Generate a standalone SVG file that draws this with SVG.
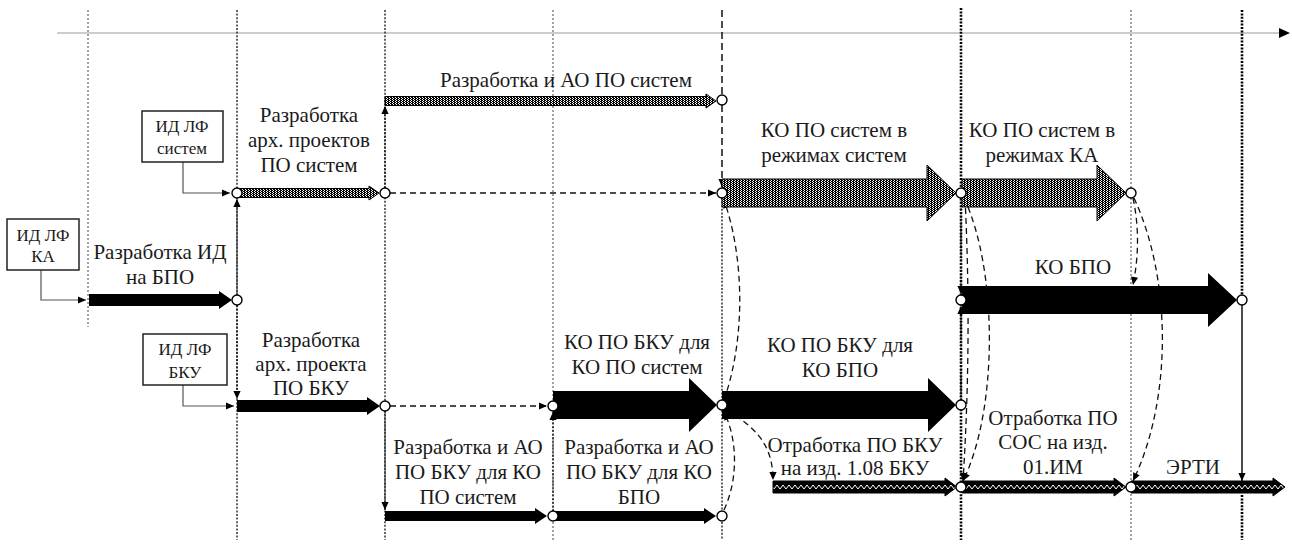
<svg xmlns="http://www.w3.org/2000/svg" width="1292" height="546" viewBox="0 0 1292 546" font-family="'Liberation Serif', 'DejaVu Serif', serif">
<style>
text{font-family:'Liberation Serif','DejaVu Serif',serif;font-size:21px;fill:#1a1a1a;text-anchor:middle}
.bx text{font-size:17px}
.bx rect{fill:#fff;stroke:#222;stroke-width:1.5}
.vl{stroke:#111;stroke-width:1.3;stroke-dasharray:2 1.6;fill:none}
.vt{stroke:#444;stroke-width:1;stroke-dasharray:2 2;fill:none}
.vb{stroke:#000;stroke-width:2.6;stroke-dasharray:2 1.4;fill:none}
.vd{stroke:#111;stroke-width:1.5;stroke-dasharray:7 4;fill:none}
.ms{fill:#fff;stroke:#000;stroke-width:1.4}
.hat{fill:url(#chk);stroke:#000;stroke-width:1}
.blk{fill:#000}
.zz{fill:url(#zz);stroke:#000;stroke-width:1}
.cn{stroke:#555;stroke-width:1.2;fill:none}
.dash{stroke:#111;stroke-width:1.3;stroke-dasharray:6 4;fill:none}
.dot{stroke:#111;stroke-width:1.4;stroke-dasharray:2 1.6;fill:none}
</style>
<defs>
<pattern id="chk" x="0" y="0" width="3" height="2" patternUnits="userSpaceOnUse"><rect width="3" height="2" fill="#000"/><rect width="1" height="1" fill="#fff"/><rect x="2" y="1" width="1" height="1" fill="#fff"/></pattern>
<pattern id="zz" x="0" y="481" width="12" height="13" patternUnits="userSpaceOnUse"><rect width="12" height="13" fill="#000"/><path d="M0,8 L3,4 L6,8 L9,4 L12,8" stroke="#fff" stroke-width="1" fill="none"/></pattern>
<marker id="ah" viewBox="0 0 10 10" refX="10" refY="5" markerWidth="9" markerHeight="8" orient="auto" markerUnits="userSpaceOnUse"><path d="M0,0.5 L10,5 L0,9.5 z" fill="#000"/></marker>
</defs>

<g id="timeline">
<line x1="57" y1="33" x2="1280" y2="33" stroke="#bbb" stroke-width="1.5"/>
<path d="M1279,28 L1290,33 L1279,38 z" fill="#000"/>
</g>

<g id="gridlines">
<line class="vt" x1="88" y1="10" x2="88" y2="327"/>
<line class="vl" x1="237" y1="10" x2="237" y2="540"/>
<line class="vl" x1="385" y1="10" x2="385" y2="540"/>
<line class="vt" x1="553" y1="10" x2="553" y2="540"/>
<line class="vd" x1="722" y1="10" x2="722" y2="95"/>
<line class="vl" x1="722" y1="198" x2="722" y2="540"/>
<line class="vb" x1="961" y1="8" x2="961" y2="540"/>
<line class="vt" x1="1131" y1="10" x2="1131" y2="540"/>
<line class="vb" x1="1242" y1="10" x2="1242" y2="295"/>
<line class="vb" x1="1242" y1="495" x2="1242" y2="540"/>
</g>

<g id="connectors">
<polyline class="cn" points="183,162 183,193 230,193" marker-end="url(#ah)"/>
<polyline class="cn" points="41,270 41,300 86,300" marker-end="url(#ah)"/>
<polyline class="cn" points="183,385 183,406 234,406" marker-end="url(#ah)"/>
<line class="dash" x1="390" y1="193" x2="716" y2="193" marker-end="url(#ah)"/>
<line class="dash" x1="390" y1="406" x2="547" y2="406" marker-end="url(#ah)"/>
<line class="dot" x1="237" y1="295" x2="237" y2="199" marker-end="url(#ah)"/>
<line class="dot" x1="237" y1="305" x2="237" y2="399" marker-end="url(#ah)"/>
<line class="dot" x1="385" y1="188" x2="385" y2="106" marker-end="url(#ah)"/>
<line class="dot" x1="385" y1="411" x2="385" y2="510" marker-end="url(#ah)"/>
<line class="dot" x1="553" y1="511" x2="553" y2="412" marker-end="url(#ah)"/>
<line class="vd" x1="722" y1="105" x2="722" y2="187" marker-end="url(#ah)"/>
<path class="dash" d="M724,400 C745,340 745,260 724,200" marker-end="url(#ah)"/>
<path class="dash" d="M724,510 C738,480 738,440 724,412" marker-end="url(#ah)"/>
<path class="dash" d="M727,410 C750,425 773,440 773,480" marker-end="url(#ah)"/>
<line class="dot" x1="961" y1="198" x2="961" y2="294" marker-end="url(#ah)"/>
<line class="dot" x1="961" y1="400" x2="961" y2="306" marker-end="url(#ah)"/>
<path class="dash" d="M965,198 Q972,340 963,481" marker-end="url(#ah)"/>
<path class="dash" d="M964,198 C998,270 998,410 963,481" marker-end="url(#ah)"/>
<path class="dash" d="M1133,198 Q1142,240 1133,285" marker-end="url(#ah)"/>
<path class="dash" d="M1134,198 C1172,280 1172,400 1133,481" marker-end="url(#ah)"/>
<line x1="1242" y1="305" x2="1242" y2="481" stroke="#000" stroke-width="1.4" marker-end="url(#ah)"/>
</g>

<g id="box-id-lf-sistem" class="bx">
<rect x="142" y="111" width="81" height="51"/>
<text x="182" y="132">ИД ЛФ</text>
<text x="182" y="154">систем</text>
</g>
<g id="box-id-lf-ka" class="bx">
<rect x="7" y="219" width="72" height="51"/>
<text x="43" y="241">ИД ЛФ</text>
<text x="43" y="262">КА</text>
</g>
<g id="box-id-lf-bku" class="bx">
<rect x="143" y="334" width="84" height="51"/>
<text x="185" y="355">ИД ЛФ</text>
<text x="185" y="378">БКУ</text>
</g>

<g id="task-razr-ao-po-sistem">
<polygon class="hat" points="385,96.5 706,96.5 706,94 716,101 706,108 706,105.5 385,105.5"/>
<text x="566" y="87">Разработка и АО ПО систем</text>
</g>
<g id="task-razr-arh-sistem">
<polygon class="hat" points="237,188.5 369,188.5 369,186 379,193 369,200 369,197.5 237,197.5"/>
<text x="309" y="122">Разработка</text>
<text x="309" y="147">арх. проектов</text>
<text x="309" y="172">ПО систем</text>
</g>
<g id="task-ko-rezh-sistem">
<polygon class="hat" points="722,179 927,179 927,165 956,193 927,221 927,207 722,207"/>
<text x="834" y="137">КО ПО систем в</text>
<text x="834" y="162">режимах систем</text>
</g>
<g id="task-ko-rezh-ka">
<polygon class="hat" points="962,179 1097,179 1097,165 1126,193 1097,221 1097,207 962,207"/>
<text x="1042" y="137">КО ПО систем в</text>
<text x="1042" y="162">режимах КА</text>
</g>
<g id="task-razr-id-bpo">
<polygon class="blk" points="89,294 219,294 219,291 232,300 219,309 219,306 89,306"/>
<text x="160" y="259">Разработка ИД</text>
<text x="160" y="284">на БПО</text>
</g>
<g id="task-ko-bpo">
<polygon class="blk" points="962,286 1208,286 1208,273 1237,300 1208,327 1208,314 962,314"/>
<text x="1073" y="274">КО БПО</text>
</g>
<g id="task-razr-arh-bku">
<polygon class="blk" points="237,400 367,400 367,397 380,406 367,415 367,412 237,412"/>
<text x="311" y="347">Разработка</text>
<text x="311" y="371">арх. проекта</text>
<text x="311" y="395">ПО БКУ</text>
</g>
<g id="task-ko-bku-sistem">
<polygon class="blk" points="553,391 689,391 689,378 717,405 689,432 689,419 553,419"/>
<text x="637" y="349">КО ПО БКУ для</text>
<text x="637" y="374">КО ПО систем</text>
</g>
<g id="task-ko-bku-bpo">
<polygon class="blk" points="722,391 928,391 928,378 956,405 928,432 928,419 722,419"/>
<text x="840" y="352">КО ПО БКУ для</text>
<text x="840" y="377">КО БПО</text>
</g>
<g id="task-razr-ao-bku-sistem">
<polygon class="blk" points="385,511 535,511 535,508 547,516 535,524 535,521 385,521"/>
<text x="468" y="454">Разработка и АО</text>
<text x="468" y="479">ПО БКУ для КО</text>
<text x="468" y="504">ПО систем</text>
</g>
<g id="task-razr-ao-bku-bpo">
<polygon class="blk" points="553,511 704,511 704,508 716,516 704,524 704,521 553,521"/>
<text x="639" y="454">Разработка и АО</text>
<text x="639" y="479">ПО БКУ для КО</text>
<text x="639" y="504">БПО</text>
</g>
<g id="task-otr-bku">
<polygon class="zz" points="773,481 945,481 945,478 957,487 945,496 945,493 773,493"/>
<text x="855" y="452">Отработка ПО БКУ</text>
<text x="855" y="475">на изд. 1.08 БКУ</text>
</g>
<g id="task-otr-sos">
<polygon class="zz" points="962,481 1114,481 1114,478 1126,487 1114,496 1114,493 962,493"/>
<text x="1053" y="425">Отработка ПО</text>
<text x="1053" y="449">СОС на изд.</text>
<text x="1053" y="474">01.ИМ</text>
</g>
<g id="task-erti">
<polygon class="zz" points="1131,481 1273,481 1273,478 1285,487 1273,496 1273,493 1131,493"/>
<text x="1193" y="474">ЭРТИ</text>
</g>

<g id="milestones">
<circle class="ms" cx="237" cy="193" r="5"/>
<circle class="ms" cx="385" cy="193" r="5"/>
<circle class="ms" cx="722" cy="193" r="5"/>
<circle class="ms" cx="961" cy="193" r="5"/>
<circle class="ms" cx="1131" cy="193" r="5"/>
<circle class="ms" cx="722" cy="100" r="5"/>
<circle class="ms" cx="237" cy="300" r="5"/>
<circle class="ms" cx="961" cy="300" r="5"/>
<circle class="ms" cx="1242" cy="300" r="5"/>
<circle class="ms" cx="385" cy="406" r="5"/>
<circle class="ms" cx="553" cy="406" r="5"/>
<circle class="ms" cx="722" cy="405" r="5"/>
<circle class="ms" cx="961" cy="405" r="5"/>
<circle class="ms" cx="553" cy="516" r="5"/>
<circle class="ms" cx="722" cy="516" r="5"/>
<circle class="ms" cx="961" cy="487" r="5"/>
<circle class="ms" cx="1131" cy="487" r="5"/>
</g>
</svg>
